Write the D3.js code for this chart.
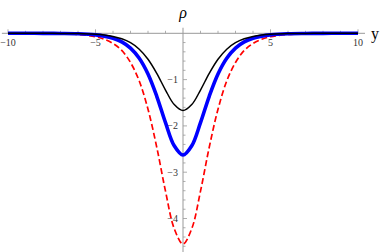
<!DOCTYPE html>
<html>
<head>
<meta charset="utf-8">
<script src="https://cdn.jsdelivr.net/npm/d3@7"></script>
<style>
  body { margin: 0; background: #fff; }
  svg { display: block; }
  text { font-family: "Liberation Serif", "DejaVu Serif", serif; }
</style>
</head>
<body>
<script>
const width = 382;
const height = 252;

// sample positions along y
const xs = [-10, -9, -8, -7, -6, -5, -4.5, -4, -3.5, -3, -2.5, -2, -1.5, -1, -0.5, 0,
            0.5, 1, 1.5, 2, 2.5, 3, 3.5, 4, 4.5, 5, 6, 7, 8, 9, 10];

// rho values
const blackVals = [0, 0, -0.001, -0.002, -0.007, -0.022, -0.039, -0.068, -0.118, -0.203, -0.343, -0.56, -0.864, -1.225, -1.54, -1.67,
                   -1.54, -1.225, -0.864, -0.56, -0.343, -0.203, -0.118, -0.068, -0.039, -0.022, -0.007, -0.002, -0.001, 0, 0];
const blueVals  = [0, 0, -0.001, -0.004, -0.011, -0.034, -0.061, -0.107, -0.186, -0.32, -0.54, -0.88, -1.36, -1.93, -2.43, -2.63,
                   -2.43, -1.93, -1.36, -0.88, -0.54, -0.32, -0.186, -0.107, -0.061, -0.034, -0.011, -0.004, -0.001, 0, 0];
const redVals   = [0, -0.001, -0.003, -0.008, -0.025, -0.074, -0.128, -0.22, -0.37, -0.63, -1.03, -1.64, -2.46, -3.41, -4.22, -4.55,
                   -4.22, -3.41, -2.46, -1.64, -1.03, -0.63, -0.37, -0.22, -0.128, -0.074, -0.025, -0.008, -0.003, -0.001, 0];

const xTickLabels = [-10, -5, 5, 10];
const yTickLabels = [-1, -2, -3, -4];

const svg = d3.select("body")
    .append("svg")
    .attr("width", width)
    .attr("height", height);

const xScale = d3.scaleLinear().domain([-10, 10]).range([8, 358]);
const yScale = d3.scaleLinear().domain([0, -4]).range([33.3, 218.5]);

const axisColor = "#999";
const x0 = xScale(0), y0 = yScale(0);

// axes lines
svg.append("line")
    .attr("x1", xScale(-10.35)).attr("x2", xScale(10.4))
    .attr("y1", y0).attr("y2", y0)
    .attr("stroke", axisColor).attr("stroke-width", 1);
svg.append("line")
    .attr("x1", x0).attr("x2", x0)
    .attr("y1", yScale(0.12)).attr("y2", height)
    .attr("stroke", axisColor).attr("stroke-width", 1);

// x ticks (point up)
const xTicks = d3.range(-10, 11, 1);
svg.append("g").selectAll("line")
    .data(xTicks.filter(d => d !== 0))
    .enter().append("line")
    .attr("x1", d => xScale(d)).attr("x2", d => xScale(d))
    .attr("y1", y0).attr("y2", d => y0 - (d % 5 === 0 ? 4 : 2.5))
    .attr("stroke", axisColor).attr("stroke-width", 0.8);

// y ticks (point right)
const yTicks = d3.range(0, 24).map(i => -0.2 * (i + 1));
svg.append("g").selectAll("line")
    .data(yTicks)
    .enter().append("line")
    .attr("x1", x0).attr("x2", d => x0 + (Math.abs(d - Math.round(d)) < 1e-6 ? 4 : 2.5))
    .attr("y1", d => yScale(d)).attr("y2", d => yScale(d))
    .attr("stroke", axisColor).attr("stroke-width", 0.8);

const fmt = d => (d < 0 ? "\u2212" : "") + Math.abs(d);

svg.append("g").selectAll("text")
    .data(xTickLabels)
    .enter().append("text")
    .attr("x", d => xScale(d))
    .attr("y", y0 + 13)
    .attr("text-anchor", "middle")
    .attr("font-size", 10)
    .attr("fill", "#333")
    .text(fmt);

svg.append("g").selectAll("text")
    .data(yTickLabels)
    .enter().append("text")
    .attr("x", x0 - 5)
    .attr("y", d => yScale(d) + 3.5)
    .attr("text-anchor", "end")
    .attr("font-size", 10)
    .attr("fill", "#333")
    .text(fmt);

// axis labels
svg.append("text")
    .attr("x", x0).attr("y", 18)
    .attr("text-anchor", "middle")
    .attr("font-style", "italic")
    .attr("font-size", 16)
    .text("\u03C1");
svg.append("text")
    .attr("x", 371).attr("y", 39)
    .attr("font-size", 16)
    .text("y");

const line = d3.line()
    .x((d, i) => xScale(xs[i]))
    .y(d => yScale(d))
    .curve(d3.curveCatmullRom);

svg.append("path").datum(redVals)
    .attr("d", line).attr("fill", "none")
    .attr("stroke", "#ff0000").attr("stroke-width", 1.7)
    .attr("stroke-dasharray", "6,3");
svg.append("path").datum(blueVals)
    .attr("d", line).attr("fill", "none")
    .attr("stroke", "#0000ff").attr("stroke-width", 3.6);
svg.append("path").datum(blackVals)
    .attr("d", line).attr("fill", "none")
    .attr("stroke", "#000").attr("stroke-width", 1.5);
</script>
</body>
</html>
